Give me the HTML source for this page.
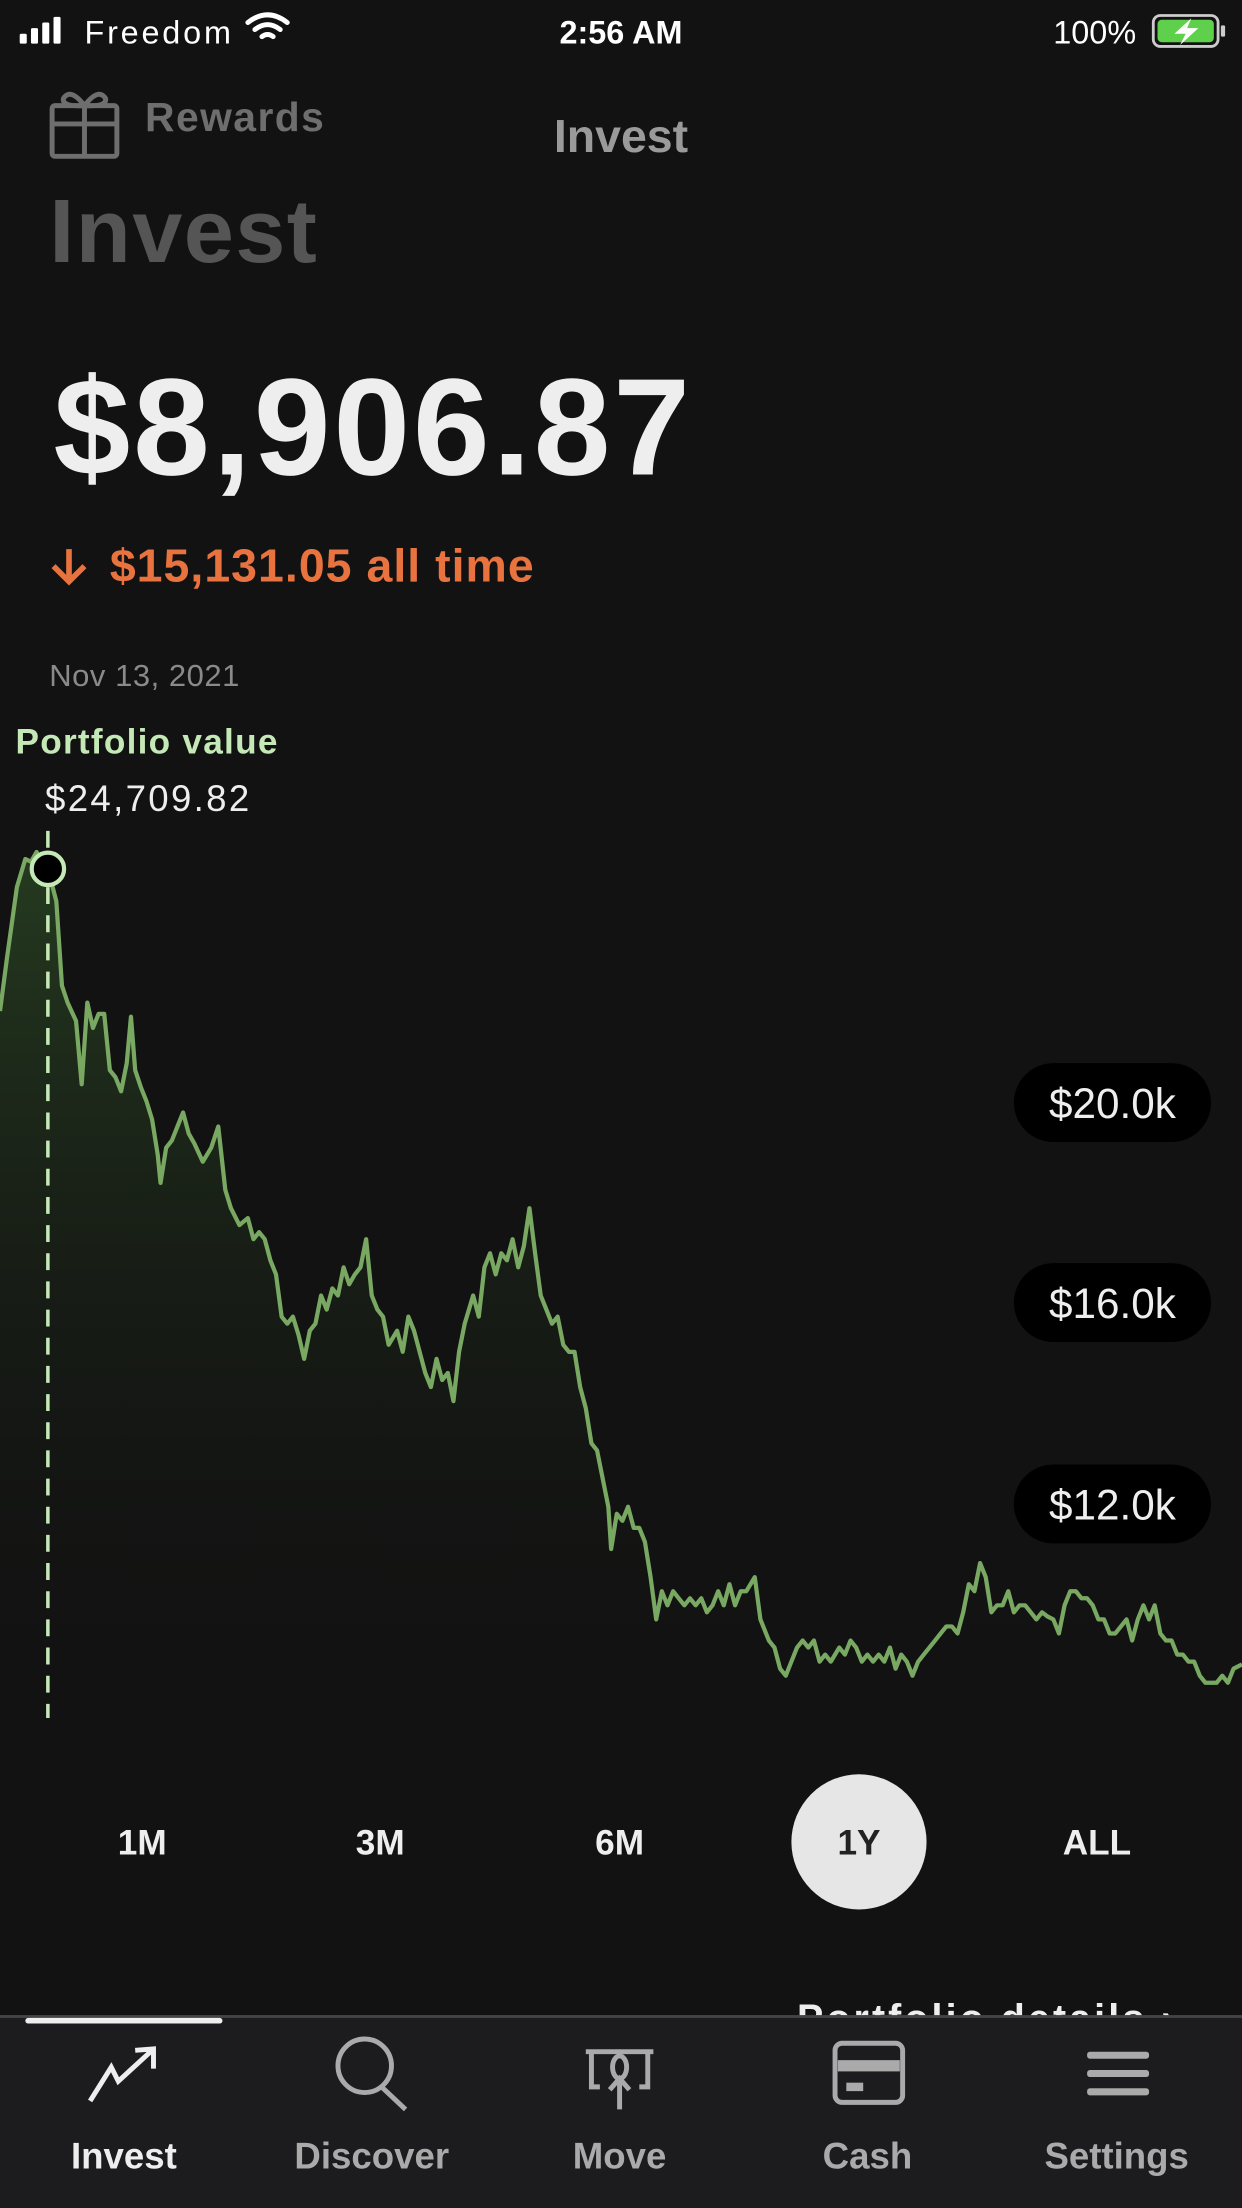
<!DOCTYPE html>
<html><head><meta charset="utf-8"><style>
html,body{margin:0;padding:0;background:#121212;}
svg{display:block;}
text{font-family:"Liberation Sans",sans-serif;}
</style></head><body>
<svg width="1242" height="2208" viewBox="0 0 882 1568" xmlns="http://www.w3.org/2000/svg">
<defs>
<linearGradient id="g" x1="0" y1="0" x2="0" y2="1">
<stop offset="0" stop-color="#2a4523" stop-opacity="0.8"/>
<stop offset="1" stop-color="#121212" stop-opacity="0"/>
</linearGradient>
</defs>
<rect width="882" height="1568" fill="#121212"/>
<g fill="#fff">
<rect x="14" y="24" width="5" height="7" rx="1"/><rect x="22" y="20" width="5" height="11" rx="1"/><rect x="30" y="16" width="5" height="15" rx="1"/><rect x="38" y="12" width="5" height="19" rx="1"/>
</g>
<text x="60" y="31" fill="#fff" font-size="23" textLength="104">Freedom</text>
<path d="M176 16 Q190 5 204 16 M181 21 Q190 14 199 21 M186 26 Q190 23 194 26" stroke="#fff" stroke-width="3.5" fill="none" stroke-linecap="round"/>
<text x="441" y="31" fill="#fff" font-size="23" text-anchor="middle" font-weight="bold">2:56 AM</text>
<text x="748" y="31" fill="#fff" font-size="23">100%</text>
<rect x="819" y="11" width="46" height="22" rx="5" fill="none" stroke="#ccc" stroke-width="2"/>
<rect x="822" y="14" width="40" height="16" rx="3" fill="#5fd04c"/>
<rect x="867" y="18" width="3" height="8" rx="1" fill="#ccc"/>
<path d="M846 13 L834 24 L842 24 L838 32 L851 20 L843 20 Z" fill="#fff"/>
<g stroke="#6e6e6e" stroke-width="3.5" fill="none">
<rect x="37" y="75" width="46" height="36" rx="2"/><line x1="37" y1="88" x2="83" y2="88"/><line x1="60" y1="75" x2="60" y2="111"/>
<path d="M60 75 Q50 62 45 70 Q44 76 60 75 Q70 62 75 70 Q76 76 60 75"/>
</g>
<text x="103" y="93" fill="#6e6e6e" font-size="29" font-weight="bold" textLength="127">Rewards</text>
<text x="441" y="108" fill="#9a9a9a" font-size="33" text-anchor="middle" font-weight="bold">Invest</text>
<text x="35" y="186" fill="#555" font-size="64" font-weight="bold" textLength="190">Invest</text>
<text x="38" y="337" fill="#eeeeee" font-size="98" font-weight="bold" textLength="452">$8,906.87</text>
<path d="M49 390 L49 412 M38 402 L49 413 L60 402" stroke="#e8733f" stroke-width="4" fill="none"/>
<text x="78" y="413" fill="#e8733f" font-size="33" font-weight="bold" textLength="301">$15,131.05 all time</text>
<text x="35" y="487" fill="#8a8a8a" font-size="22" textLength="135">Nov 13, 2021</text>
<text x="11" y="535" fill="#c5e8b7" font-size="25" font-weight="bold" textLength="186">Portfolio value</text>
<text x="32" y="576" fill="#eee" font-size="26" textLength="145">$24,709.82</text>
<path fill="url(#g)" stroke="none" d="M0 718 L5 680 L12 630 L18 610 L22 612 L26 605 L30 615 L34 617 L40 640 L44 700 L48 712 L54 725 L58 770 L62 712 L66 730 L70 720 L74 720 L78 760 L82 765 L86 775 L90 755 L93 722 L96 760 L100 772 L104 782 L108 795 L112 820 L114 840 L118 815 L122 810 L126 800 L130 790 L134 805 L138 812 L144 825 L150 815 L155 800 L160 845 L164 858 L170 870 L176 865 L180 880 L184 875 L188 880 L192 895 L196 905 L200 935 L204 940 L208 935 L212 948 L216 965 L220 945 L224 940 L228 920 L232 930 L236 915 L240 920 L244 900 L248 912 L252 905 L256 900 L260 880 L264 920 L268 930 L272 935 L276 955 L282 945 L286 960 L290 935 L294 945 L298 960 L302 975 L306 985 L310 965 L314 980 L318 975 L322 995 L326 960 L330 940 L336 920 L340 935 L344 900 L348 890 L352 905 L356 890 L360 895 L364 880 L368 900 L372 885 L376 858 L380 890 L384 920 L388 930 L392 940 L396 935 L400 955 L404 960 L408 960 L412 985 L416 1000 L420 1025 L424 1030 L428 1050 L432 1070 L434 1100 L438 1075 L442 1080 L446 1070 L450 1085 L454 1085 L458 1095 L462 1120 L466 1150 L470 1130 L474 1140 L478 1130 L482 1135 L486 1140 L490 1135 L494 1140 L498 1135 L502 1145 L506 1140 L510 1130 L514 1140 L518 1125 L522 1140 L526 1130 L530 1130 L536 1120 L540 1150 L546 1165 L550 1170 L554 1185 L558 1190 L562 1180 L566 1170 L570 1165 L574 1170 L578 1165 L582 1180 L586 1175 L590 1180 L596 1170 L600 1175 L604 1165 L608 1170 L612 1180 L616 1175 L620 1180 L624 1175 L628 1180 L632 1170 L636 1185 L640 1175 L644 1180 L648 1190 L652 1180 L656 1175 L660 1170 L664 1165 L668 1160 L672 1155 L676 1155 L680 1160 L684 1145 L688 1125 L692 1130 L696 1110 L700 1120 L704 1145 L708 1140 L712 1140 L716 1130 L720 1145 L724 1140 L728 1140 L732 1145 L736 1150 L740 1145 L744 1148 L748 1150 L752 1160 L756 1140 L760 1130 L764 1130 L768 1135 L772 1135 L776 1140 L780 1150 L784 1150 L788 1160 L792 1160 L796 1155 L800 1150 L804 1165 L808 1150 L812 1140 L816 1150 L820 1140 L824 1160 L828 1165 L832 1165 L836 1175 L840 1175 L844 1180 L848 1180 L852 1190 L856 1195 L860 1195 L864 1195 L868 1190 L872 1195 L876 1185 L882 1182 L882 1230 L0 1230 Z"/>
<polyline fill="none" stroke="#79a862" stroke-width="3" stroke-linejoin="round" points="0,718 5,680 12,630 18,610 22,612 26,605 30,615 34,617 40,640 44,700 48,712 54,725 58,770 62,712 66,730 70,720 74,720 78,760 82,765 86,775 90,755 93,722 96,760 100,772 104,782 108,795 112,820 114,840 118,815 122,810 126,800 130,790 134,805 138,812 144,825 150,815 155,800 160,845 164,858 170,870 176,865 180,880 184,875 188,880 192,895 196,905 200,935 204,940 208,935 212,948 216,965 220,945 224,940 228,920 232,930 236,915 240,920 244,900 248,912 252,905 256,900 260,880 264,920 268,930 272,935 276,955 282,945 286,960 290,935 294,945 298,960 302,975 306,985 310,965 314,980 318,975 322,995 326,960 330,940 336,920 340,935 344,900 348,890 352,905 356,890 360,895 364,880 368,900 372,885 376,858 380,890 384,920 388,930 392,940 396,935 400,955 404,960 408,960 412,985 416,1000 420,1025 424,1030 428,1050 432,1070 434,1100 438,1075 442,1080 446,1070 450,1085 454,1085 458,1095 462,1120 466,1150 470,1130 474,1140 478,1130 482,1135 486,1140 490,1135 494,1140 498,1135 502,1145 506,1140 510,1130 514,1140 518,1125 522,1140 526,1130 530,1130 536,1120 540,1150 546,1165 550,1170 554,1185 558,1190 562,1180 566,1170 570,1165 574,1170 578,1165 582,1180 586,1175 590,1180 596,1170 600,1175 604,1165 608,1170 612,1180 616,1175 620,1180 624,1175 628,1180 632,1170 636,1185 640,1175 644,1180 648,1190 652,1180 656,1175 660,1170 664,1165 668,1160 672,1155 676,1155 680,1160 684,1145 688,1125 692,1130 696,1110 700,1120 704,1145 708,1140 712,1140 716,1130 720,1145 724,1140 728,1140 732,1145 736,1150 740,1145 744,1148 748,1150 752,1160 756,1140 760,1130 764,1130 768,1135 772,1135 776,1140 780,1150 784,1150 788,1160 792,1160 796,1155 800,1150 804,1165 808,1150 812,1140 816,1150 820,1140 824,1160 828,1165 832,1165 836,1175 840,1175 844,1180 848,1180 852,1190 856,1195 860,1195 864,1195 868,1190 872,1195 876,1185 882,1182"/>
<line x1="34" y1="590" x2="34" y2="1220" stroke="#c5e8b7" stroke-width="2.5" stroke-dasharray="12 8"/>
<circle cx="34" cy="617" r="11.5" fill="#000" stroke="#c5e8b7" stroke-width="3"/>
<g fill="#000"><rect x="720" y="755" width="140" height="56" rx="28"/><rect x="720" y="897" width="140" height="56" rx="28"/><rect x="720" y="1040" width="140" height="56" rx="28"/></g>
<g fill="#eee" font-size="30" text-anchor="middle"><text x="790" y="794">$20.0k</text><text x="790" y="936">$16.0k</text><text x="790" y="1079">$12.0k</text></g>
<circle cx="610" cy="1308" r="48" fill="#e6e6e6"/>
<g font-size="25" font-weight="bold" text-anchor="middle" fill="#eee">
<text x="101" y="1317">1M</text><text x="270" y="1317">3M</text><text x="440" y="1317">6M</text><text x="610" y="1317" fill="#222">1Y</text><text x="779" y="1317">ALL</text>
</g>
<text x="566" y="1443" fill="#eee" font-size="28" font-weight="bold" textLength="268">Portfolio details ›</text>
<rect x="0" y="1432" width="882" height="136" fill="#1c1c1e"/>
<rect x="0" y="1431" width="882" height="2" fill="#444"/>
<rect x="18" y="1433" width="140" height="4" rx="2" fill="#eee"/>
<path d="M64 1492 L79 1468 L84 1478 L108 1456 M96 1456 L109 1455 L109 1469" stroke="#eee" stroke-width="3.5" fill="none"/>
<circle cx="259" cy="1467" r="19" stroke="#aaa" stroke-width="3.5" fill="none"/>
<line x1="271" y1="1482" x2="288" y2="1498" stroke="#aaa" stroke-width="3.5"/>
<g stroke="#aaa" stroke-width="3.5" fill="none">
<line x1="416" y1="1457" x2="464" y2="1457"/><path d="M420 1457 L420 1482 L426 1482 M460 1457 L460 1482 L454 1482"/>
<ellipse cx="440" cy="1468" rx="5" ry="8"/><path d="M440 1498 L440 1476 M433 1484 L440 1476 L447 1484"/>
<rect x="593" y="1451" width="48" height="42" rx="5"/>
</g>
<rect x="595" y="1463" width="44" height="8" fill="#aaa"/><rect x="601" y="1479" width="12" height="6" fill="#aaa"/>
<g fill="#aaa"><rect x="772" y="1457" width="44" height="5" rx="2"/><rect x="772" y="1470" width="44" height="5" rx="2"/><rect x="772" y="1483" width="44" height="5" rx="2"/></g>
<g font-size="26" text-anchor="middle" font-weight="bold">
<text x="88" y="1540" fill="#eee">Invest</text><text x="264" y="1540" fill="#aaa">Discover</text><text x="440" y="1540" fill="#aaa">Move</text><text x="616" y="1540" fill="#aaa">Cash</text><text x="793" y="1540" fill="#aaa">Settings</text>
</g>
</svg>
</body></html>
